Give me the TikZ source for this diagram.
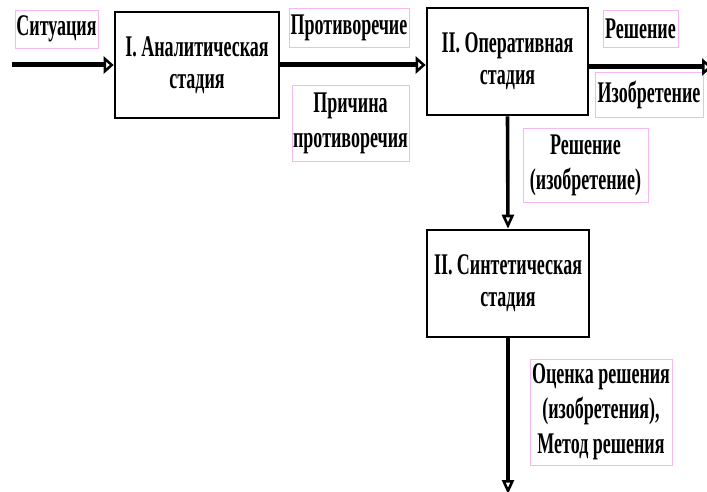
\documentclass[tikz,border=0pt]{standalone}
\usepackage{fontspec}
\setmainfont{Liberation Serif}[FakeStretch=0.6]
\usepackage{xcolor}
\usepackage{tikz}
\usetikzlibrary{arrows.meta}

\definecolor{lblpink}{rgb}{0.96,0.72,0.96}

\begin{document}
\begin{tikzpicture}[
  x=1pt,y=-1pt,
  stage/.style={rectangle,draw=black,line width=2.6pt,fill=white,align=center,
    inner sep=0pt,font=\bfseries\fontsize{30}{32}\selectfont},
  lbl/.style={rectangle,draw=lblpink,line width=0.6pt,fill=white,align=center,
    inner sep=0pt,font=\bfseries\fontsize{30}{35}\selectfont},
  flow/.style={line width=5pt,-{Triangle[open,length=10pt,width=17pt,line width=3pt]}},
  down/.style={line width=3.6pt,-{Triangle[open,length=14pt,width=12pt,line width=2.6pt]}},
]
\useasboundingbox (0,0) rectangle (707,492);

\node [stage,minimum width=164pt,minimum height=106pt] (anal) at (197,65)
  {I. Аналитическая\\стадия};
\node [stage,minimum width=161pt,minimum height=107pt] (oper) at (507.5,61.5)
  {II. Оперативная\\стадия};
\node [stage,minimum width=162pt,minimum height=107pt] (sint) at (508,283.5)
  {II. Синтетическая\\стадия};

\node [lbl,minimum width=83pt,minimum height=38pt] (sit) at (56.5,29) {Ситуация};
\node [lbl,minimum width=120pt,minimum height=39pt] (prot) at (349,27.5) {Противоречие};
\node [lbl,minimum width=117pt,minimum height=76pt] (prich) at (350.5,123)
  {Причина\\противоречия};
\node [lbl,minimum width=75pt,minimum height=37pt] (resh) at (640.5,28.5) {Решение};
\node [lbl,minimum width=108pt,minimum height=45pt] (izob) at (649,94.5) {Изобретение};
\node [lbl,minimum width=125pt,minimum height=74pt] (reshiz) at (585.5,165)
  {Решение\\(изобретение)};
\node [lbl,minimum width=142pt,minimum height=106pt] (ocen) at (601,412)
  {Оценка решения\\(изобретения),\\Метод решения};

\coordinate (in) at (12,65);
\coordinate (out) at (712,67);
\coordinate (end) at (508,494);

\draw [flow] (in) -- (anal.west);
\draw [flow] (anal.east) -- (anal.east -| oper.west);
\draw [flow] (oper.east |- out) -- (out);
\draw [down] (oper.south) -- (sint.north);
\draw [down] (sint.south) -- (end);
\end{tikzpicture}
\end{document}
